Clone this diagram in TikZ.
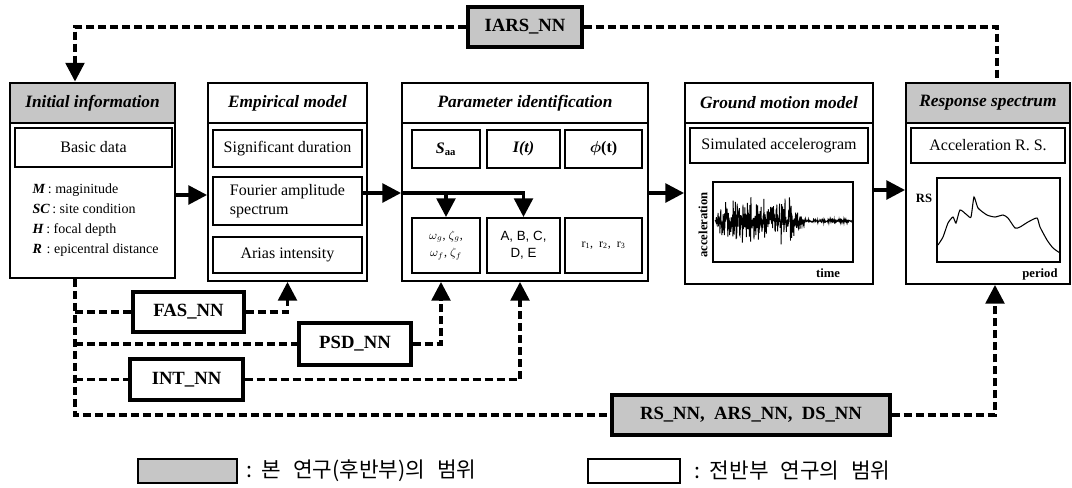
\documentclass[tikz,border=0pt]{standalone}
\usepackage{amsmath}
\usepackage{fontspec}
\setmainfont{Liberation Serif}
\setsansfont{Liberation Sans}
\newfontfamily\kofont{Noto Sans CJK KR}
\usetikzlibrary{arrows.meta, calc}
\usepackage{xcolor}
\definecolor{scopegray}{HTML}{C6C6C6}
\newcommand{\kosp}{\hspace{0.55em}}

\begin{document}
\begin{tikzpicture}[x=0.75pt, y=-0.75pt, font=\fontsize{12}{14}\selectfont,
    boxat/.style n args={4}{minimum width={(#3-#1)*0.75pt}, minimum height={(#4-#2)*0.75pt},
      at={({(#1+#3)/2},{(#2+#4)/2})}},
    hdr/.style={draw, line width=2.2pt, inner sep=0pt, font=\fontsize{13}{15}\selectfont\bfseries\itshape},
    hdrgray/.style={hdr, fill=scopegray},
    body/.style={draw, line width=1.4pt, inner sep=0pt},
    inbox/.style={draw, line width=1.5pt, inner sep=0pt},
    nnbox/.style={draw, line width=2.6pt, inner sep=0pt, font=\fontsize{14}{16}\selectfont\bfseries},
    nngray/.style={nnbox, fill=scopegray},
    axlabel/.style={inner sep=1pt, font=\fontsize{9.5}{11}\selectfont\bfseries},
    flow/.style={line width=2.6pt, -{Triangle[length=14pt,width=14pt]}},
    ctrl/.style={line width=2.5pt, dash pattern=on 6pt off 3pt},
    ctrlarrow/.style={ctrl, -{Triangle[length=14pt,width=14pt]}}]
  \useasboundingbox (0,0) rectangle (1072,487);

  \node[hdrgray, boxat={10}{83}{175}{123}] (initH) {Initial information};
  \node[body, boxat={10}{123}{175}{278}] (initB) {};
  \node[inbox, boxat={15}{128}{172}{167}] (basic) {Basic data};
  \node[anchor=west, align=left, font=\fontsize{10.5}{15}\selectfont] (params) at (28,220)
    {\textbf{\textit{M}}\,: maginitude\\ \textbf{\textit{SC}}\,: site condition\\
     \textbf{\textit{H}}\,: focal depth\\ \textbf{\textit{R}}\,\,: epicentral distance};

  \node[hdr, boxat={208}{83}{367}{123}] (empH) {Empirical model};
  \node[body, boxat={208}{123}{367}{281}] (empB) {};
  \node[inbox, boxat={213}{130}{362}{167}] (sigdur) {Significant duration};
  \node[inbox, boxat={213}{177}{362}{225}, align=left] (fas) {Fourier amplitude\\spectrum};
  \node[inbox, boxat={213}{237}{362}{273}] (arias) {Arias intensity};

  \node[hdr, boxat={402}{83}{648}{123}] (parH) {Parameter identification};
  \node[body, boxat={402}{123}{648}{281}] (parB) {};
  \node[inbox, boxat={412}{130}{480}{168}] (saa) {\textbf{\textit{S}\textsubscript{aa}}};
  \node[inbox, boxat={487}{130}{560}{168}] (envI) {\textbf{\textit{I(t)}}};
  \node[inbox, boxat={565}{130}{642}{168}] (phase) {$\boldsymbol{\phi}$\textbf{(t)}};
  \node[inbox, boxat={412}{218}{480}{273}, align=center, font=\fontsize{9}{13}\selectfont] (omg)
    {$\omega_g$,\ $\zeta_g$,\\ $\omega_f$,\ $\zeta_f$};
  \node[inbox, boxat={487}{218}{560}{273}, align=center, font=\sffamily\fontsize{10}{13}\selectfont] (abc)
    {A, B, C,\\ D, E};
  \node[inbox, boxat={565}{218}{642}{273}, font=\fontsize{9}{11}\selectfont] (rr)
    {r\textsubscript{1},\ \ r\textsubscript{2},\ \ r\textsubscript{3}};

  \node[hdr, boxat={685}{83}{873}{123}] (gmH) {Ground motion model};
  \node[body, boxat={685}{123}{873}{284}] (gmB) {};
  \node[inbox, boxat={690}{128}{868}{163}] (simacc) {Simulated accelerogram};
  \node[draw, line width=0.8pt, inner sep=0pt, boxat={713}{182}{853}{262}] (accplot) {};
  \node[axlabel, rotate=90] (acclab) at (703,225) {acceleration};
  \node[axlabel] (timelab) at (828,273) {time};
  \pgfmathsetseed{42}
  \draw[line width=0.7pt] plot[samples=500, domain=715:852, variable=\t]
    (\t, {221 + 25*rand*abs(rand)^0.7*(\t<721 ? (\t-715)/6 : (\t<790 ? 1 : (\t<806 ? 1-(\t-790)/16*0.92 : 0.08)))});

  \node[hdrgray, boxat={906}{83}{1070}{123}] (rsH) {Response spectrum};
  \node[body, boxat={906}{123}{1070}{284}] (rsB) {};
  \node[inbox, boxat={911}{128}{1065}{163}] (accrs) {Acceleration R. S.};
  \node[draw, line width=0.8pt, inner sep=0pt, boxat={937}{178}{1060}{262}] (rsplot) {};
  \node[axlabel] (rslab) at (924,198) {RS};
  \node[axlabel] (perlab) at (1040,274) {period};
  \draw[line width=0.8pt] plot[smooth, tension=0.35] coordinates {(938,245) (943,237) (948,223) (953,217)
    (956,223) (960,210) (967,215) (971,217) (974,197) (978,208) (987,215) (995,217) (1003,215)
    (1008,218) (1015,228) (1020,227) (1028,222) (1037,218) (1040,227) (1047,240) (1053,248) (1060,253)};

  \node[nngray, boxat={468}{7}{582}{47}] (iars) {IARS\_NN};
  \node[nnbox, boxat={133}{292}{244}{332}] (fasnn) {FAS\_NN};
  \node[nnbox, boxat={299}{323}{411}{365}] (psdnn) {PSD\_NN};
  \node[nnbox, boxat={130}{359}{243}{400}] (intnn) {INT\_NN};
  \node[nngray, boxat={612}{395}{890}{435}] (rsnn) {RS\_NN,\ \ ARS\_NN,\ \ DS\_NN};

  \coordinate (rowA) at (0,195);
  \coordinate (rowB) at (0,193);
  \coordinate (rowC) at (0,190);
  \draw[flow] (initB.east |- rowA) -- (empB.west |- rowA);
  \draw[flow] (fas.east |- rowB) -- (parB.west |- rowB);
  \draw[flow] (parB.west |- rowB) -| (abc.north);
  \draw[flow] (omg.north |- rowB) -- (omg.north);
  \draw[flow] (parB.east |- rowB) -- (gmB.west |- rowB);
  \draw[flow] (gmB.east |- rowC) -- (rsB.west |- rowC);

  \coordinate (iarsL) at (75,28);
  \coordinate (iarsR) at (997,28);
  \coordinate (trunk) at (75,0);
  \coordinate (psdup) at (441,0);
  \coordinate (intup) at (520,0);
  \coordinate (rsup) at (995,0);
  \draw[ctrlarrow] (iars.west) -| (iarsL |- initH.north);
  \draw[ctrl] (iars.east) -| (iarsR |- rsH.north);
  \draw[ctrl] (trunk |- initB.south) -- (trunk |- rsnn.west) -- (rsnn.west);
  \draw[ctrl] (trunk |- fasnn.west) -- (fasnn.west);
  \draw[ctrl] (trunk |- psdnn.west) -- (psdnn.west);
  \draw[ctrl] (trunk |- intnn.west) -- (intnn.west);
  \draw[ctrlarrow] (fasnn.east) -| (empB.south);
  \draw[ctrlarrow] (psdnn.east) -| (psdup |- parB.south);
  \draw[ctrlarrow] (intnn.east) -| (intup |- parB.south);
  \draw[ctrlarrow] (rsnn.east) -| (rsup |- rsB.south);

  \node[draw, line width=1.6pt, fill=scopegray, inner sep=0pt, boxat={138}{459}{237}{483}] (leggray) {};
  \node[anchor=west, inner sep=0pt, font=\kofont\fontsize{16}{18}\selectfont] (legtxtA) at (246,471)
    {:\hspace{0.45em}본\kosp 연구(후반부)의\kosp 범위};
  \node[draw, line width=1.6pt, inner sep=0pt, boxat={588}{459}{680}{483}] (legwhite) {};
  \node[anchor=west, inner sep=0pt, font=\kofont\fontsize{16}{18}\selectfont] (legtxtB) at (694,471)
    {:\hspace{0.45em}전반부\kosp 연구의\kosp 범위};
\end{tikzpicture}
\end{document}
